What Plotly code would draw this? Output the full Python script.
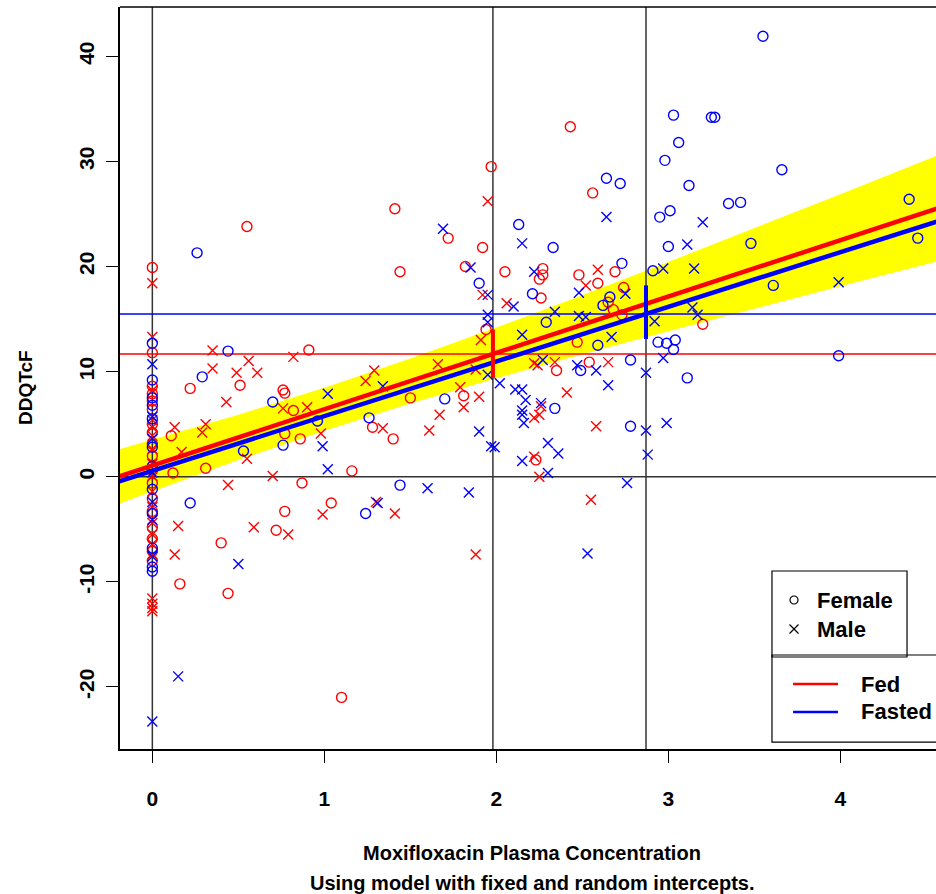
import plotly.graph_objects as go
import numpy as np

# ---------------- data ----------------
# Fed, female (red circles)
fed_f_conc = [0, 0, 0, 0, 0, 0, 0, 0, 0, 0, 0, 0, 0, 0, 0, 0, 0, 0,
              0.55, 1.41, 1.44, 0.91, 0.51, 0.22, 0.76, 0.77, 0.82, 0.11, 0.77, 0.86, 1.28, 1.40,
              0.31, 0.12, 1.16, 0.87, 0.77, 1.04, 0.72, 0.40, 0.16, 0.44, 1.10,
              2.43, 1.97, 2.56, 1.72, 1.92, 2.05, 2.27, 2.27, 2.25, 2.26, 2.48, 2.59, 2.69, 2.74,
              1.94, 2.47, 2.65, 2.68, 2.73, 2.35, 2.54, 1.50, 1.81, 2.23, 3.20, 1.82]
fed_f_dqt = [19.9, 11.8, 8.6, 7.9, 7.2, 6.4, 5.0, 4.2, 3.1, 2.0, 0.6, -0.6, -2.1, -3.3, -4.8, -5.9, -7.1, -8.0,
             23.8, 25.5, 19.5, 12.06, 8.7, 8.4, 8.25, 7.95, 6.3, 3.9, 4.1, 3.6, 4.7, 3.6,
             0.8, 0.35, 0.55, -0.6, -3.3, -2.5, -5.1, -6.3, -10.2, -11.1, -21.0,
             33.3, 29.5, 27.0, 22.7, 21.8, 19.5, 19.8, 19.2, 18.8, 17.0, 19.2, 18.4, 19.5, 18.0,
             14.0, 12.8, 16.6, 15.9, 15.4, 10.1, 10.9, 7.5, 7.7, 1.6, 14.5, 20.0]

# Fed, male (red crosses)
fed_m_conc = [0, 0, 0, 0, 0, 0, 0, 0, 0, 0, 0, 0, 0, 0, 0, 0, 0, 0, 0,
              0.35, 0.82, 0.35, 0.56, 0.49, 0.61, 0.43, 0.76, 0.90, 1.24, 1.29, 0.13, 0.31, 0.29,
              0.98, 1.34, 0.55, 0.17, 0.70, 0.44, 0.99, 1.30, 1.41, 0.15, 0.59, 0.79, 0.13,
              1.95, 2.59, 2.52, 1.92, 2.06, 1.91, 1.66, 1.88, 2.22, 2.24, 2.34, 2.65, 2.41, 2.26,
              2.25, 2.22, 2.58, 1.79, 1.67, 1.81, 1.90, 1.61, 2.22, 2.25, 2.55, 1.88]
fed_m_dqt = [18.4, 13.3, 8.2, 5.4, 4.7, 3.9, 2.6, 1.2, 0.1, -1.4, -2.9, -4.4, -5.5, -6.4, -7.4, -11.6, -12.1, -12.5, -12.8,
             12.0, 11.4, 10.3, 11.0, 9.9, 9.9, 7.1, 6.5, 6.6, 9.1, 10.1, 4.7, 5.0, 4.2,
             4.1, 4.6, 1.7, 2.35, 0.07, -0.8, -3.6, -2.4, -3.5, -4.7, -4.8, -5.5, -7.4,
             26.2, 19.7, 18.2, 17.3, 16.5, 13.0, 10.7, 10.2, 10.8, 10.6, 10.9, 10.9, 8.0, 6.7,
             5.9, 5.6, 4.8, 8.5, 5.9, 6.6, 7.6, 4.4, 1.9, 0.0, -2.2, -7.4]

# Fasted, female (blue circles)
fast_f_conc = [0, 0, 0, 0, 0, 0, 0, 0, 0, 0, 0, 0,
               0.26, 0.44, 0.29, 0.70, 0.76, 0.96, 1.26, 0.53, 1.44, 0.22, 1.24,
               2.64, 2.72, 2.13, 2.33, 1.90, 2.21, 2.73, 2.66, 3.03, 3.06, 2.98, 2.95, 3.01, 3.00,
               2.91, 3.55, 3.25, 3.27, 3.66, 3.12, 3.35, 3.42, 3.48, 4.40, 4.45, 3.61, 2.29, 2.62,
               2.59, 2.94, 2.99, 3.04, 3.03, 2.78, 2.49, 2.34, 2.78, 1.70, 3.99, 3.11]
fast_f_dqt = [12.7, 9.2, 7.5, 6.8, 5.5, 2.8, 1.0, -1.2, -3.5, -6.8, -8.6, -9.0,
              21.3, 11.95, 9.5, 7.1, 3.0, 5.3, 5.6, 2.45, -0.8, -2.5, -3.5,
              28.4, 27.9, 24.0, 21.8, 18.4, 17.4, 20.3, 17.1, 34.4, 31.8, 30.1, 24.7, 25.3, 21.9,
              19.6, 41.9, 34.2, 34.2, 29.2, 27.7, 26.0, 26.1, 22.2, 26.4, 22.7, 18.2, 14.7, 16.3,
              12.5, 12.8, 12.7, 13.0, 12.1, 11.1, 10.1, 6.5, 4.8, 7.4, 11.5, 9.4]

# Fasted, male (blue crosses)
fast_m_conc = [0, 0, 0, 0, 0, 0, 0, 0,
               1.02, 1.34, 0.99, 1.02, 1.31, 0.50, 0.15,
               2.64, 1.69, 2.15, 1.85, 1.95, 2.22, 2.48, 2.75, 2.97, 3.20, 3.11, 3.15, 3.99,
               2.10, 1.95, 1.95, 2.15, 2.34, 2.48, 2.52, 2.67, 2.92, 2.97, 1.95, 2.27, 2.47,
               2.58, 2.87, 2.02, 2.11, 2.15, 2.17, 2.15, 2.15, 2.16, 2.65, 2.87, 2.99, 1.90,
               1.97, 1.99, 2.30, 2.36, 2.15, 2.30, 2.88, 1.60, 1.84, 2.76, 2.53, 3.14, 3.17, 2.26]
fast_m_dqt = [10.7, 5.7, 3.6, 0.4, -2.4, -4.1, -7.6, -23.3,
              7.9, 8.6, 2.9, 0.7, -2.5, -8.3, -19.0,
              24.7, 23.6, 22.2, 19.9, 17.3, 19.5, 17.5, 17.4, 19.8, 24.2, 22.1, 19.8, 18.5,
              16.2, 15.4, 14.7, 13.5, 15.7, 15.3, 15.2, 13.3, 14.8, 11.3, 9.7, 11.1, 10.6,
              10.1, 9.9, 8.9, 8.3, 8.3, 7.3, 6.3, 5.9, 5.1, 8.7, 4.4, 5.1, 4.3,
              2.9, 2.8, 3.2, 2.2, 1.5, 0.35, 2.1, -1.1, -1.5, -0.6, -7.3, 16.1, 15.4, 7.0]

# model: [intercept, slope]
fed_coef = [1.06, 5.36]
fasted_coef = [0.56, 5.20]
line_x = [-0.3, 4.7]

# confidence band of the Fed line (read at several concentrations)
band_x = [-0.19, 0.5, 1.0, 1.5, 2.0, 2.5, 3.0, 3.5, 4.0, 4.6]
band_hi = [2.62, 5.90, 8.47, 11.24, 14.19, 17.27, 20.43, 23.64, 26.88, 30.81]
band_lo = [-2.54, 1.58, 4.37, 6.96, 9.37, 11.65, 13.85, 16.00, 18.12, 20.63]

# reference values
vline_x = [0, 1.98, 2.87]
fed_ref = 11.67
fasted_ref = 15.48
fed_ci = [1.98, 9.4, 14.0]       # x, low, high
fasted_ci = [2.87, 13.1, 18.2]

x_ticks = [0, 1, 2, 3, 4]
y_ticks = [-20, -10, 0, 10, 20, 30, 40]

# ---------------- figure ----------------
RED = "#FF0000"
BLUE = "#0000FF"
FONT = "Liberation Sans, Arial, sans-serif"
XR = [-0.188, 4.556]
YR = [-25.91, 44.69]

fig = go.Figure()

# yellow band
fig.add_trace(go.Scatter(x=band_x + band_x[::-1], y=band_hi + band_lo[::-1],
                         fill="toself", fillcolor="#FFFF00", line=dict(width=0),
                         mode="lines", hoverinfo="skip", showlegend=False))

# reference lines
vx, vy = [], []
for v in vline_x:
    vx += [v, v, None]
    vy += [-1000, 1000, None]
fig.add_trace(go.Scatter(x=vx, y=vy, mode="lines", line=dict(color="#333333", width=1.5),
                         showlegend=False, hoverinfo="skip"))
fig.add_trace(go.Scatter(x=[-10, 10], y=[0, 0], mode="lines", line=dict(color="#333333", width=1.5),
                         showlegend=False, hoverinfo="skip"))
fig.add_trace(go.Scatter(x=[-10, 10], y=[fed_ref, fed_ref], mode="lines", line=dict(color=RED, width=1.5),
                         showlegend=False, hoverinfo="skip"))
fig.add_trace(go.Scatter(x=[-10, 10], y=[fasted_ref, fasted_ref], mode="lines", line=dict(color=BLUE, width=1.5),
                         showlegend=False, hoverinfo="skip"))

# points
def pts(xs, ys, sym, col):
    return go.Scatter(x=xs, y=ys, mode="markers", showlegend=False,
                      marker=dict(symbol=sym, size=10, color=col,
                                  line=dict(width=1.4, color=col)))

fig.add_trace(pts(fed_f_conc, fed_f_dqt, "circle-open", RED))
fig.add_trace(pts(fed_m_conc, fed_m_dqt, "x-thin-open", RED))
fig.add_trace(pts(fast_f_conc, fast_f_dqt, "circle-open", BLUE))
fig.add_trace(pts(fast_m_conc, fast_m_dqt, "x-thin-open", BLUE))

# regression lines
lx = np.array(line_x)
fig.add_trace(go.Scatter(x=lx, y=fasted_coef[0] + fasted_coef[1] * lx, mode="lines",
                         line=dict(color=BLUE, width=4.5), showlegend=False))
fig.add_trace(go.Scatter(x=lx, y=fed_coef[0] + fed_coef[1] * lx, mode="lines",
                         line=dict(color=RED, width=4.5), showlegend=False))

# CI segments
fig.add_trace(go.Scatter(x=[fed_ci[0], fed_ci[0]], y=[fed_ci[1], fed_ci[2]], mode="lines",
                         line=dict(color=RED, width=4), showlegend=False))
fig.add_trace(go.Scatter(x=[fasted_ci[0], fasted_ci[0]], y=[fasted_ci[1], fasted_ci[2]], mode="lines",
                         line=dict(color=BLUE, width=4), showlegend=False))

# legend symbols on an overlay axis in plot-fraction units
fig.add_trace(go.Scatter(x=[0.826], y=[0.2008], xaxis="x2", yaxis="y2", mode="markers",
                         marker=dict(symbol="circle-open", size=8, color="black", line=dict(width=1.2)),
                         showlegend=False, hoverinfo="skip"))
fig.add_trace(go.Scatter(x=[0.826], y=[0.1617], xaxis="x2", yaxis="y2", mode="markers",
                         marker=dict(symbol="x-thin-open", size=9, color="black",
                                     line=dict(width=1.2, color="black")),
                         showlegend=False, hoverinfo="skip"))
fig.add_trace(go.Scatter(x=[0.8248, 0.8799], y=[0.0876, 0.0876], xaxis="x2", yaxis="y2", mode="lines",
                         line=dict(color=RED, width=2.5), showlegend=False, hoverinfo="skip"))
fig.add_trace(go.Scatter(x=[0.8248, 0.8799], y=[0.0499, 0.0499], xaxis="x2", yaxis="y2", mode="lines",
                         line=dict(color=BLUE, width=2.5), showlegend=False, hoverinfo="skip"))

tickfont = dict(family=FONT, size=21, color="black", weight="bold")

fig.update_layout(
    width=936, height=894,
    margin=dict(l=120, r=0, t=7, b=145),
    paper_bgcolor="white", plot_bgcolor="white",
    showlegend=False,
    xaxis=dict(range=XR, tickvals=x_ticks, ticktext=[str(t) for t in x_ticks],
               ticks="outside", ticklen=12, tickwidth=1, tickcolor="black",
               showline=True, linecolor="black", linewidth=1.5,
               showgrid=False, zeroline=False, tickfont=tickfont,
               ticklabelstandoff=18),
    yaxis=dict(range=YR, tickvals=y_ticks, ticktext=[str(t) for t in y_ticks],
               ticks="outside", ticklen=12, tickwidth=1, tickcolor="black",
               showline=True, linecolor="black", linewidth=1.5,
               showgrid=False, zeroline=False, tickfont=tickfont, tickangle=-90,
               ticklabelstandoff=4),
    xaxis2=dict(overlaying="x", range=[0, 1], visible=False, domain=[0, 1]),
    yaxis2=dict(overlaying="y", range=[0, 1], visible=False),
)

# top border
fig.add_shape(type="line", xref="paper", yref="paper", x0=0, x1=1.1, y0=1, y1=1,
              line=dict(color="black", width=1.5))
# legend boxes
fig.add_shape(type="rect", xref="paper", yref="paper", x0=0.799, x1=0.9645, y0=0.124, y1=0.2399,
              line=dict(color="black", width=1.2))
fig.add_shape(type="rect", xref="paper", yref="paper", x0=0.799, x1=1.05, y0=0.0094, y1=0.1267,
              line=dict(color="black", width=1.2))

legfont = dict(family=FONT, size=22, color="black", weight="bold")
for txt, xx, yy in [("Female", 0.8517, 0.2008), ("Male", 0.8517, 0.1617),
                    ("Fed", 0.9056, 0.0876), ("Fasted", 0.9056, 0.0499)]:
    fig.add_annotation(text=txt, xref="paper", yref="paper", x=xx, y=yy,
                       xanchor="left", yanchor="middle", showarrow=False, font=legfont)

titlefont = dict(family=FONT, size=20, color="black", weight="bold")
fig.add_annotation(text="Moxifloxacin Plasma Concentration", xref="paper", yref="paper",
                   x=0.505, y=-0.1402, xanchor="center", yanchor="middle", showarrow=False, font=titlefont)
fig.add_annotation(text="Using model with fixed and random intercepts.", xref="paper", yref="paper",
                   x=0.505, y=-0.1806, xanchor="center", yanchor="middle", showarrow=False, font=titlefont)
fig.add_annotation(text="DDQTcF", xref="paper", yref="paper", x=-0.1164, y=0.4865,
                   xanchor="center", yanchor="middle", textangle=-90, showarrow=False,
                   font=dict(family=FONT, size=19, color="black", weight="bold"))

fig.write_html("out.html", config={"displayModeBar": False},
               post_script="document.body.style.margin='0';document.body.style.overflow='hidden';")
